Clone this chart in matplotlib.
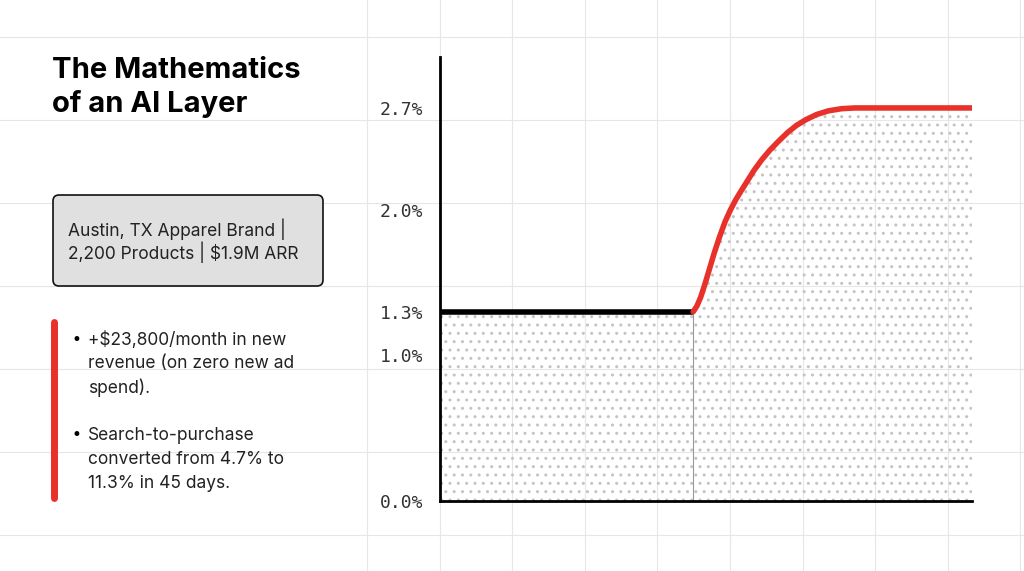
import matplotlib
matplotlib.use("Agg")
import matplotlib.pyplot as plt
from matplotlib.patches import FancyBboxPatch
import numpy as np

# data
x_base = [0, 47.6]
y_base = [1.3, 1.3]
x_ai = [47.6, 48.3, 49.0, 49.8, 50.7, 51.6, 52.6, 53.6, 54.6, 55.6, 56.6, 57.8, 59.0, 60.4, 62.0,
        63.6, 65.3, 67.0, 68.8, 70.8, 73.0, 75.5, 78.0, 80.8, 100]
y_ai = [1.3, 1.34, 1.40, 1.49, 1.60, 1.71, 1.82, 1.92, 2.0, 2.07, 2.13, 2.2, 2.27, 2.34, 2.41,
        2.47, 2.53, 2.58, 2.62, 2.655, 2.68, 2.695, 2.7, 2.7, 2.7]
ytick_vals = [0.0, 1.0, 1.3, 2.0, 2.7]
ytick_labels = ["0.0%", "1.0%", "1.3%", "2.0%", "2.7%"]

W, H = 1024, 571
fig = plt.figure(figsize=(W/100, H/100), dpi=100)
bg = fig.add_axes([0, 0, 1, 1])
bg.set_xlim(0, W); bg.set_ylim(H, 0); bg.axis('off')
for gx in np.arange(367, W, 72.6):
    bg.axvline(gx, color='#e6e6e6', lw=0.8, zorder=0)
for gy in np.arange(37, H, 83):
    bg.axhline(gy, color='#e6e6e6', lw=0.8, zorder=0)

bg.text(52, 70, "The Mathematics", fontsize=21, fontweight='bold', family='Inter', va='center')
bg.text(52, 104, "of an AI Layer", fontsize=21, fontweight='bold', family='Inter', va='center')
bg.add_patch(FancyBboxPatch((53, 195), 270, 91, boxstyle="round,pad=0,rounding_size=6",
                            fc='#e0e0e0', ec='#111111', lw=1.2))
bg.text(68, 229, "Austin, TX Apparel Brand |", fontsize=12.5, family='Inter', va='center', color='#222')
bg.text(68, 252, "2,200 Products | $1.9M ARR", fontsize=12.5, family='Inter', va='center', color='#222')
bg.plot([54, 54], [322, 498], color='#e8312a', lw=5, solid_capstyle='round')
lines1 = ["+$23,800/month in new", "revenue (on zero new ad", "spend)."]
lines2 = ["Search-to-purchase", "converted from 4.7% to", "11.3% in 45 days."]
for i, t in enumerate(lines1):
    bg.text(88, 340 + 24*i, t, fontsize=12.5, family='Inter', va='center', color='#222')
for i, t in enumerate(lines2):
    bg.text(88, 435 + 24*i, t, fontsize=12.5, family='Inter', va='center', color='#222')
bg.text(72, 340, "•", fontsize=12, va='center')
bg.text(72, 435, "•", fontsize=12, va='center')

ax = fig.add_axes([440/W, 1-501/H, 532/W, 444/H])
ax.patch.set_alpha(0)
ax.set_xlim(0, 100); ax.set_ylim(0, 3.05)
matplotlib.rcParams['hatch.linewidth'] = 1.0
ax.fill_between(x_base, 0, y_base, facecolor='none', edgecolor='#c4c4c4', hatch='..', lw=0)
ax.fill_between(x_ai, 0, y_ai, facecolor='none', edgecolor='#c4c4c4', hatch='..', lw=0)
ax.plot([47.6, 47.6], [0, 1.3], color='#999', lw=0.8)
ax.plot(x_base, y_base, color='black', lw=4, solid_capstyle='butt')
ax.plot(x_ai, y_ai, color='#e8312a', lw=4, solid_capstyle='round', solid_joinstyle='round')
for s in ['top', 'right']:
    ax.spines[s].set_visible(False)
for s in ['left', 'bottom']:
    ax.spines[s].set_linewidth(2)
ax.set_xticks([])
ax.set_yticks(ytick_vals)
ax.set_yticklabels(ytick_labels, family='DejaVu Sans Mono', fontsize=13, color='#333')
ax.tick_params(axis='y', length=0, pad=12)
fig.savefig("out.png", dpi=100)
